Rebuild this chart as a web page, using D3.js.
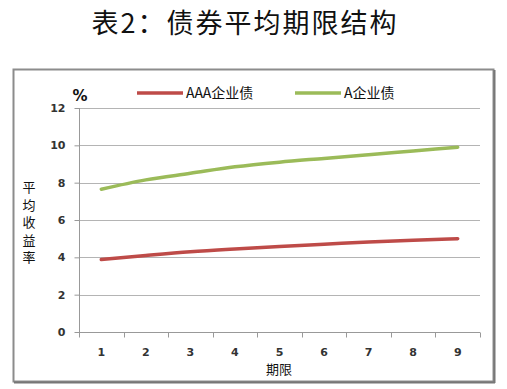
<!DOCTYPE HTML>
<html lang="zh">
<head>
<meta charset="UTF-8">
<style>
    body { margin: 0; background: #fff; }
    .grid line { stroke: #b4b4b4; }
    .axis path, .axis line { stroke: #999; }
    .axis text { font-family: "DejaVu Sans", Verdana, sans-serif; font-size: 11px; font-weight: bold; fill: #333; }
    .cjk { font-family: "Noto Sans CJK SC", sans-serif; fill: #111; }
</style>
</head>
<body>
<script src="https://d3js.org/d3.v7.min.js"></script>
<script>
var periods = [1, 2, 3, 4, 5, 6, 7, 8, 9];
var aaaYield = [3.88, 4.1, 4.3, 4.45, 4.58, 4.7, 4.82, 4.92, 5.0];
var aYield = [7.65, 8.15, 8.5, 8.85, 9.1, 9.3, 9.5, 9.7, 9.9];
var yTicks = [0, 2, 4, 6, 8, 10, 12];
var seriesNames = ['AAA企业债', 'A企业债'];
var seriesColors = ['#be4b48', '#9bbb59'];

var W = 507, H = 389;
var svg = d3.select('body').append('svg').attr('width', W).attr('height', H);

// title
svg.append('text').attr('class', 'cjk')
    .attr('x', 245).attr('y', 33)
    .attr('text-anchor', 'middle')
    .style('font-size', '27px')
    .style('letter-spacing', '2px')
    .text('表2：债券平均期限结构');

// frame (with a darker right/bottom edge)
svg.append('rect')
    .attr('x', 13.5).attr('y', 69.5).attr('width', 480).attr('height', 312)
    .attr('fill', '#fff').attr('stroke', '#8c8c8c').attr('stroke-width', 2);
svg.append('path')
    .attr('d', 'M494.5,70V383M14,382.5H495')
    .attr('stroke', '#777').attr('stroke-width', 2).attr('fill', 'none');

var plotL = 79, plotR = 480, plotT = 108, plotB = 332;

var x = d3.scaleBand().domain(periods).range([plotL, plotR]);
var y = d3.scaleLinear().domain([0, 12]).range([plotB, plotT]);

// gridlines
svg.append('g').attr('class', 'grid')
    .selectAll('line').data(yTicks.slice(1)).enter()
    .append('line')
    .attr('x1', plotL).attr('x2', plotR)
    .attr('y1', function(d){ return Math.round(y(d)) + 0.5; })
    .attr('y2', function(d){ return Math.round(y(d)) + 0.5; });

// y axis
var yAxis = svg.append('g').attr('class', 'axis')
    .attr('transform', 'translate(' + (plotL + 0.5) + ',0)')
    .call(d3.axisLeft(y).tickValues(yTicks).tickSize(5).tickPadding(9).tickFormat(d3.format('d')));
yAxis.select('.domain').attr('d', 'M0,' + plotT + 'V' + plotB);

// x axis: ticks between categories
var xg = svg.append('g').attr('class', 'axis')
    .attr('transform', 'translate(0,' + (plotB + 0.5) + ')');
xg.append('line').attr('x1', plotL).attr('x2', plotR);
var bounds = periods.map(function(p){ return x(p); }).concat([plotR]);
xg.selectAll('.tk').data(bounds).enter().append('line')
    .attr('x1', function(d){ return Math.round(d) + 0.5; })
    .attr('x2', function(d){ return Math.round(d) + 0.5; })
    .attr('y1', 0).attr('y2', 5);
xg.selectAll('text').data(periods).enter().append('text')
    .attr('x', function(d){ return x(d) + x.bandwidth() / 2; })
    .attr('y', 23)
    .attr('text-anchor', 'middle')
    .text(function(d){ return d; });

// axis titles
svg.append('text').attr('class', 'cjk')
    .attr('x', 279).attr('y', 374).attr('text-anchor', 'middle')
    .style('font-size', '13px').text('期限');

svg.append('text').attr('class', 'cjk')
    .attr('x', 80).attr('y', 101).attr('text-anchor', 'middle')
    .style('font-size', '15px').style('font-weight', 'bold').style('font-family', 'DejaVu Sans, sans-serif')
    .text('%');

var yt = svg.append('text').attr('class', 'cjk')
    .attr('text-anchor', 'middle').style('font-size', '13px');
'平均收益率'.split('').forEach(function(c, i){
    yt.append('tspan').attr('x', 29).attr('y', 192 + i * 17.5).text(c);
});

// lines
var line = d3.line()
    .x(function(d, i){ return x(periods[i]) + x.bandwidth() / 2; })
    .y(function(d){ return y(d); })
    .curve(d3.curveMonotoneX);

[aaaYield, aYield].forEach(function(s, i){
    svg.append('path').datum(s)
        .attr('d', line)
        .attr('fill', 'none')
        .attr('stroke', seriesColors[i])
        .attr('stroke-width', 3.5)
        .attr('stroke-linecap', 'round');
});

// legend
var legX = [137, 295];
seriesNames.forEach(function(n, i){
    svg.append('line')
        .attr('x1', legX[i]).attr('x2', legX[i] + 46)
        .attr('y1', 93).attr('y2', 93)
        .attr('stroke', seriesColors[i]).attr('stroke-width', 3.5);
    svg.append('text').attr('class', 'cjk')
        .attr('x', legX[i] + 49).attr('y', 98)
        .style('font-size', '14px')
        .text(n);
});
</script>
</body>
</html>
